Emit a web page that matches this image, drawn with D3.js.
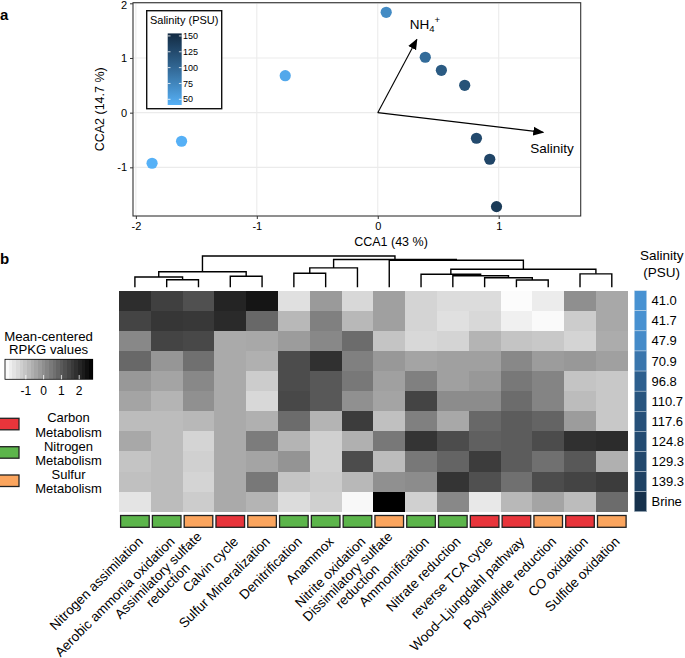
<!DOCTYPE html>
<html><head><meta charset="utf-8">
<script src="https://cdn.jsdelivr.net/npm/d3@7"></script>
<style>
html,body{margin:0;padding:0;background:#fff;}
text{font-family:"Liberation Sans",Arial,Helvetica,sans-serif;fill:#000;}
</style></head>
<body><svg id="chart" width="685" height="658"></svg>
<script>
// ---------- Panel a data (CCA) ----------
const ccaX = [-1.866, -1.622, -0.765, 0.070, 0.393, 0.526, 0.719, 0.816, 0.926, 0.982];
const ccaY = [-0.925, -0.523, 0.676, 1.835, 1.013, 0.775, 0.500, -0.468, -0.852, -1.718];
const ccaSalinity = [41.0, 41.7, 47.9, 70.9, 96.8, 110.7, 117.6, 124.8, 129.3, 139.3];
const envNames = ["NH4+", "Salinity"];
const envX = [0.323, 1.368];
const envY = [1.34, -0.36];
const xTicksA = [-2, -1, 0, 1];
const yTicksA = [-1, 0, 1, 2];
const salLegendTicks = [50, 75, 100, 125, 150];

// ---------- Panel b data (heatmap) ----------
const samples = ["41.0","41.7","47.9","70.9","96.8","110.7","117.6","124.8","129.3","139.3","Brine"];
const sampleSalinity = [41.0, 41.7, 47.9, 70.9, 96.8, 110.7, 117.6, 124.8, 129.3, 139.3, 165]; // Brine estimated for colour
const pathways = ["Nitrogen assimilation","Aerobic ammonia oxidation","Assimilatory sulfate\nreduction","Calvin cycle",
  "Sulfur Mineralization","Denitrification","Anammox","Nitrite oxidation","Dissimilatory sulfate\nreduction",
  "Ammonification","Nitrate reduction","reverse TCA cycle","Wood\u2013Ljungdahl pathway","Polysulfide reduction",
  "CO oxidation","Sulfide oxidation"];
const pathwayGroup = ["Nitrogen","Nitrogen","Sulfur","Carbon","Sulfur","Nitrogen","Nitrogen","Nitrogen","Sulfur",
  "Nitrogen","Nitrogen","Carbon","Carbon","Sulfur","Carbon","Sulfur"];
const groups = ["Carbon","Nitrogen","Sulfur"];
const rpkg = [
 [1.89,1.52,1.21,2.06,2.35,-1.57,-0.22,-1.42,-0.33,-1.34,-1.49,-1.49,-2.11,-1.80,0.00,-0.49],
 [1.45,1.72,1.68,1.95,0.75,-0.80,0.29,-0.80,-0.33,-1.34,-1.57,-1.42,-1.88,-2.07,-1.18,-0.49],
 [0.13,1.45,1.37,-0.53,-0.49,-0.26,0.13,0.67,-1.03,-1.42,-1.34,-0.72,-1.03,-1.11,-1.34,-0.57],
 [0.75,-0.14,0.59,-0.53,-0.64,1.29,1.83,0.29,-0.18,-0.41,-0.33,-0.33,0.13,-0.26,-0.18,-0.33],
 [-0.18,-0.41,0.13,-0.53,-1.18,1.29,1.06,0.44,-0.33,0.29,-0.33,-0.18,0.44,0.21,-1.03,-1.11],
 [-0.41,-0.72,-0.02,-0.53,-1.42,1.37,1.06,-0.02,-0.41,1.45,0.05,0.05,0.67,0.21,-0.87,-1.11],
 [-0.87,-0.87,-0.80,-0.53,-0.64,0.67,-0.72,1.60,-0.95,0.29,-0.49,0.75,0.98,0.83,-0.26,-1.11],
 [-0.49,-0.87,-1.34,-0.53,0.36,-0.72,-1.26,-0.64,0.44,1.75,1.29,0.90,0.98,1.29,1.83,1.91],
 [-1.03,-0.87,-1.26,-0.53,-0.41,-0.10,-1.26,1.29,-0.87,0.44,0.83,1.60,0.98,0.59,1.06,-0.64],
 [-0.95,-0.87,-1.34,-0.53,0.44,-1.03,-1.18,-0.80,-0.02,0.05,1.75,1.21,0.59,1.29,1.45,1.60],
 [-1.65,-0.87,-1.18,-0.53,-0.72,-1.49,-1.26,-2.03,2.76,-1.26,0.13,-1.73,-0.80,-0.41,-0.87,0.67]
];
const rpkgTicks = [-1, 0, 1, 2];
// dendrogram merges: [left, right, height]; negative = leaf column index (-(i+1)), positive = earlier merge (1-based)
const merges = [
 [-2,-3,24.3],[-1,1,32.9],[-4,-5,35.1],[2,3,49.8],
 [-6,-7,44.7],[5,-8,62.0],
 [-13,-14,23.3],[-12,7,30.7],[-11,8,37.1],[-10,9,41.5],[-15,-16,43.0],[10,11,57.5],
 [-9,12,86.3],[6,13,88.8],[4,14,100]
];

// ---------- drawing ----------
const svg = d3.select("#chart");
const font = "'Liberation Sans',Arial,Helvetica,sans-serif";

// ===== Panel a =====
const ax = d3.scaleLinear().domain([-2.0236, 1.678]).range([133, 580.7]);
const ay = d3.scaleLinear().domain([-1.89, 2.011]).range([216, 2.7]);
const salColor = d3.scaleLinear().domain([41, 154]).range(["#56B1F7", "#132B43"]).interpolate(d3.interpolateLab);

const gA = svg.append("g");
gA.append("rect").attr("x", 133).attr("y", 2.7).attr("width", 580.7-133).attr("height", 216-2.7).attr("fill", "#fff");
gA.selectAll("line.gx").data(xTicksA).join("line").attr("class","gx")
  .attr("x1", d=>ax(d)).attr("x2", d=>ax(d)).attr("y1", 2.7).attr("y2", 216)
  .attr("stroke", "#ebebeb").attr("stroke-width", 1.1);
gA.selectAll("line.gy").data(yTicksA).join("line").attr("class","gy")
  .attr("y1", d=>ay(d)).attr("y2", d=>ay(d)).attr("x1", 133).attr("x2", 580.7)
  .attr("stroke", "#ebebeb").attr("stroke-width", 1.1);

// axes
const xAxisA = gA.append("g").attr("transform", "translate(0,216)")
  .call(d3.axisBottom(ax).tickValues(xTicksA).tickSize(3).tickPadding(3).tickFormat(d3.format("d")));
const yAxisA = gA.append("g").attr("transform", "translate(133,0)")
  .call(d3.axisLeft(ay).tickValues(yTicksA).tickSize(3).tickPadding(3).tickFormat(d3.format("d")));
[xAxisA, yAxisA].forEach(a => {
  a.select(".domain").remove();
  a.selectAll(".tick line").attr("stroke", "#333").attr("stroke-width", 1);
  a.selectAll(".tick text").attr("font-size", 11).attr("fill", "#333").attr("font-family", font);
});
xAxisA.selectAll(".tick text").text(d => d < 0 ? "-" + Math.abs(d) : d);
yAxisA.selectAll(".tick text").text(d => d < 0 ? "-" + Math.abs(d) : d)
  .attr("dy", d => d === 2 ? "0.5em" : "0.32em");

gA.append("text").attr("x", 391).attr("y", 246).attr("text-anchor", "middle")
  .attr("font-size", 12.5).text("CCA1 (43 %)");
gA.append("text").attr("transform", "translate(104,109.3) rotate(-90)").attr("text-anchor", "middle")
  .attr("font-size", 12.5).text("CCA2 (14.7 %)");

// arrows
const defs = svg.append("defs");
defs.append("marker").attr("id", "arr").attr("viewBox", "0 0 10 10").attr("refX", 9).attr("refY", 5)
  .attr("markerWidth", 11).attr("markerHeight", 11).attr("markerUnits", "userSpaceOnUse").attr("orient", "auto")
  .append("path").attr("d", "M0,1 L10,5 L0,9 Z").attr("fill", "#000");
gA.selectAll("line.env").data(envNames).join("line").attr("class","env")
  .attr("x1", ax(0)).attr("y1", ay(0)).attr("x2", (d,i)=>ax(envX[i])).attr("y2", (d,i)=>ay(envY[i]))
  .attr("stroke", "#000").attr("stroke-width", 1.1).attr("marker-end", "url(#arr)");
// NH4+ label
const nh = gA.append("text").attr("x", ax(envX[0]) - 7).attr("y", ay(envY[0]) - 10).attr("font-size", 13.5);
nh.append("tspan").text("NH");
nh.append("tspan").attr("font-size", 9.5).attr("dy", 3).text("4");
nh.append("tspan").attr("font-size", 9.5).attr("dy", -9).text("+");
gA.append("text").attr("x", ax(envX[1]) - 13).attr("y", ay(envY[1]) + 21).attr("font-size", 13.5).text(envNames[1]);

// points
gA.selectAll("circle.pt").data(ccaX).join("circle").attr("class","pt")
  .attr("cx", (d)=>ax(d)).attr("cy", (d,i)=>ay(ccaY[i])).attr("r", 5.6)
  .attr("fill", (d,i)=>salColor(ccaSalinity[i]));

gA.append("rect").attr("x", 133).attr("y", 2.7).attr("width", 580.7-133).attr("height", 216-2.7)
  .attr("fill", "none").attr("stroke", "#333").attr("stroke-width", 1.1);

// legend a
const lg = gA.append("g");
lg.append("rect").attr("x", 146.7).attr("y", 10.7).attr("width", 75).attr("height", 98)
  .attr("fill", "#fff").attr("stroke", "#111").attr("stroke-width", 1.4);
lg.append("text").attr("x", 184.2).attr("y", 24).attr("text-anchor", "middle").attr("font-size", 11).text("Salinity (PSU)");
const lgY = d3.scaleLinear().domain([41, 154]).range([105, 33.4]);
const grad = defs.append("linearGradient").attr("id", "salgrad").attr("x1", 0).attr("x2", 0).attr("y1", 1).attr("y2", 0);
d3.range(0, 1.0001, 0.1).forEach(t => grad.append("stop").attr("offset", t)
  .attr("stop-color", salColor(41 + t*(154-41))));
lg.append("rect").attr("x", 167.7).attr("y", lgY(154)).attr("width", 14).attr("height", lgY(41)-lgY(154))
  .attr("fill", "url(#salgrad)");
lg.selectAll("line.tl").data(salLegendTicks).join("line").attr("class","tl")
  .attr("x1", 167.7).attr("x2", 170.5).attr("y1", d=>lgY(d)).attr("y2", d=>lgY(d)).attr("stroke", "#fff").attr("stroke-width", 0.8);
lg.selectAll("line.tr").data(salLegendTicks).join("line").attr("class","tr")
  .attr("x1", 178.9).attr("x2", 181.7).attr("y1", d=>lgY(d)).attr("y2", d=>lgY(d)).attr("stroke", "#fff").attr("stroke-width", 0.8);
lg.selectAll("text.tk").data(salLegendTicks).join("text").attr("class","tk")
  .attr("x", 183).attr("y", d=>lgY(d)).attr("dy", "0.35em").attr("font-size", 9).text(d=>d);

// panel labels
svg.append("text").attr("x", 0).attr("y", 20).attr("font-size", 15).attr("font-weight", "bold").text("a");
svg.append("text").attr("x", 0).attr("y", 264).attr("font-size", 15).attr("font-weight", "bold").text("b");

// ===== Panel b =====
const hx = d3.scaleBand().domain(d3.range(pathways.length)).range([119, 627.7]);
const hy = d3.scaleBand().domain(d3.range(samples.length)).range([290.7, 511.7]);
const vmin = -2.17, vmax = 2.76;
const grey = d3.scaleLinear().domain([vmin, vmax]).range(["#ffffff", "#000000"]);
const gB = svg.append("g");

rpkg.forEach((row, r) => {
  gB.selectAll(null).data(row).join("rect")
    .attr("x", (d,c)=>hx(c)).attr("y", hy(r)).attr("width", hx.bandwidth()+0.3).attr("height", hy.bandwidth()+0.3)
    .attr("fill", d=>grey(d)).attr("shape-rendering", "crispEdges");
});

// dendrogram
const dh = d3.scaleLinear().domain([0, 100]).range([287.3, 256]);
const nodeX = [], nodeH = [];
function cx(id){ return id < 0 ? hx(-id-1) + hx.bandwidth()/2 : nodeX[id-1]; }
function ch(id){ return id < 0 ? 0 : nodeH[id-1]; }
const dendPaths = [];
merges.forEach((m, k) => {
  const [a, b, h] = m;
  const xa = cx(a), xb = cx(b);
  dendPaths.push(`M${xa},${dh(ch(a))}V${dh(h)}H${xb}V${dh(ch(b))}`);
  nodeX[k] = (xa + xb)/2; nodeH[k] = h;
});
gB.selectAll("path.dend").data(dendPaths).join("path").attr("class","dend")
  .attr("d", d=>d).attr("fill", "none").attr("stroke", "#000").attr("stroke-width", 1.4);

// annotation boxes
const grpColor = d3.scaleOrdinal().domain(groups).range(["#E8353B", "#5CB54B", "#FBA55E"]);
gB.selectAll("rect.ann").data(pathwayGroup).join("rect").attr("class","ann")
  .attr("x", (d,i)=>hx(i)+1.6).attr("y", 515.5).attr("width", hx.bandwidth()-3.2).attr("height", 11.8)
  .attr("fill", d=>grpColor(d)).attr("stroke", "#222").attr("stroke-width", 1.3);

// column labels
pathways.forEach((p, i) => {
  const lines = p.split("\n");
  const g = gB.append("g").attr("transform", `translate(${hx(i)+hx.bandwidth()/2+5.5},539) rotate(-45)`);
  const t = g.append("text").attr("font-size", 13.5);
  if (lines.length === 1) {
    t.attr("text-anchor", "end").attr("dy", "0.35em").text(p);
  } else {
    const tmp = lines.map(l => { const s = g.append("text").attr("font-size", 13.5).text(l); const w = s.node().getComputedTextLength(); s.remove(); return w; });
    const mw = d3.max(tmp);
    const lh = 13.8;
    lines.forEach((l, j) => {
      t.append("tspan").attr("x", -mw/2).attr("y", (j - (lines.length-1)/2)*lh).attr("dy", "0.35em")
        .attr("text-anchor", "middle").text(l);
    });
  }
});

// salinity side bar
const sideColor = d3.scaleLinear().domain([41, 100, 175]).range(["#4892d2", "#2c5c8a", "#132B43"]).interpolate(d3.interpolateLab);
gB.selectAll("rect.side").data(samples).join("rect").attr("class","side")
  .attr("x", 634.3).attr("y", (d,i)=>hy(i)).attr("width", 12.4).attr("height", hy.bandwidth())
  .attr("fill", (d,i)=>sideColor(sampleSalinity[i])).attr("stroke", "#dfe8f0").attr("stroke-width", 0.4);
gB.selectAll("text.side").data(samples).join("text").attr("class","side")
  .attr("x", 651.5).attr("y", (d,i)=>hy(i)+hy.bandwidth()/2).attr("dy", "0.35em").attr("font-size", 13).text(d=>d);
gB.append("text").attr("x", 661.7).attr("y", 260).attr("text-anchor", "middle").attr("font-size", 13.5).text("Salinity");
gB.append("text").attr("x", 661.7).attr("y", 276.5).attr("text-anchor", "middle").attr("font-size", 13.5).text("(PSU)");

// RPKG legend
const lgB = gB.append("g");
lgB.append("text").attr("x", 48.5).attr("y", 340.5).attr("text-anchor", "middle").attr("font-size", 13.2).text("Mean-centered");
lgB.append("text").attr("x", 48.5).attr("y", 354).attr("text-anchor", "middle").attr("font-size", 13.2).text("RPKG values");
const lx = d3.scaleLinear().domain([vmin, vmax]).range([5, 92.7]);
const steps = 24;
const stepVals = d3.range(steps).map(k => vmin + (k+0.5)*(vmax-vmin)/steps);
lgB.selectAll("rect.st").data(stepVals).join("rect").attr("class","st")
  .attr("x", d=>lx(d - (vmax-vmin)/steps/2)).attr("y", 359.3).attr("width", (lx(vmax)-lx(vmin))/steps+0.4).attr("height", 20)
  .attr("fill", d=>grey(d)).attr("shape-rendering", "crispEdges");
lgB.append("rect").attr("x", 5).attr("y", 359.3).attr("width", 87.7).attr("height", 20)
  .attr("fill", "none").attr("stroke", "#000").attr("stroke-width", 0.8);
lgB.selectAll("line.lt").data(rpkgTicks).join("line").attr("class","lt")
  .attr("x1", d=>lx(d)).attr("x2", d=>lx(d)).attr("y1", 375).attr("y2", 379.3).attr("stroke", "#fff").attr("stroke-width", 0.8);
lgB.selectAll("text.lt").data(rpkgTicks).join("text").attr("class","lt")
  .attr("x", d=>lx(d)).attr("y", 395).attr("text-anchor", "middle").attr("font-size", 12).text(d => d < 0 ? "-" + Math.abs(d) : d);

// group legend
const grpY = [418.3, 446.7, 475];
groups.forEach((g, i) => {
  lgB.append("rect").attr("x", -1).attr("y", grpY[i]).attr("width", 20).attr("height", 11.5)
    .attr("fill", grpColor(g)).attr("stroke", "#222").attr("stroke-width", 1.3);
  lgB.append("text").attr("x", 68.5).attr("y", grpY[i] + 4).attr("text-anchor", "middle").attr("font-size", 13).text(g);
  lgB.append("text").attr("x", 68.5).attr("y", grpY[i] + 18.3).attr("text-anchor", "middle").attr("font-size", 13).text("Metabolism");
});
</script></body></html>
